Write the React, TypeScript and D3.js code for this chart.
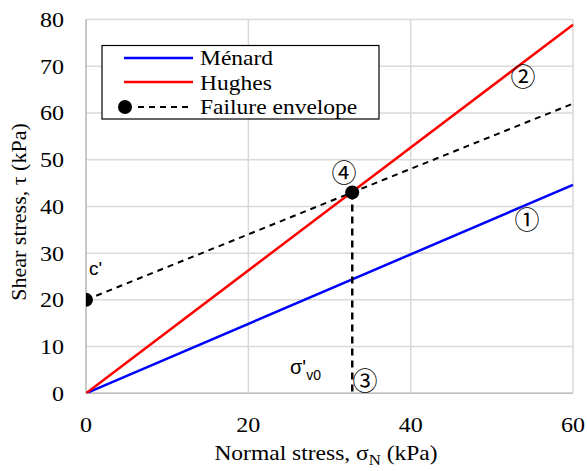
import React from "react";
import * as d3 from "d3";

const xTicks = [0, 20, 40, 60];
const yTicks = [0, 10, 20, 30, 40, 50, 60, 70, 80];
const menardX = [0, 60];
const menardY = [0, 44.6];
const hughesX = [0, 60];
const hughesY = [0, 78.9];
const envelopeX = [0, 32.8, 60];
const envelopeY = [20, 43, 62];
const sigmaV0 = 32.8;
const failurePointsX = [0, 32.8];
const failurePointsY = [20, 43];
const legendLabels = ["Ménard", "Hughes", "Failure envelope"];

const serif = "Liberation Serif, Times New Roman, serif";
const sans = "Liberation Sans, Arial, sans-serif";
const cjk = "Noto Sans CJK JP, sans-serif";
const SX = 1.12;

function SText(props: { x: number; y: number; anchor?: string; size: number; family: string; children: React.ReactNode; sx?: number }) {
  const s = props.sx ?? SX;
  return (
    <text
      transform={`translate(${props.x},${props.y}) scale(${s},1)`}
      textAnchor={props.anchor || "start"}
      fontFamily={props.family}
      fontSize={props.size}
      fill="#000"
    >
      {props.children}
    </text>
  );
}

export default function App() {
  const W = 587, H = 471;
  const left = 86, right = 573, top = 19.5, bottom = 393.3;
  const x = d3.scaleLinear().domain([0, 60]).range([left, right]);
  const y = d3.scaleLinear().domain([0, 80]).range([bottom, top]);
  const line = d3.line<[number, number]>().x(d => x(d[0])).y(d => y(d[1]));
  const zip = (a: number[], b: number[]) => a.map((v, i) => [v, b[i]] as [number, number]);
  const grid = "#d9d9d9";
  return (
    <svg width={W} height={H} style={{ position: "absolute", left: 0, top: 0, background: "#fff" }}>
      <defs>
        <clipPath id="plot">
          <rect x={left} y={top - 10} width={right - left + 10} height={bottom - top + 10} />
        </clipPath>
      </defs>
      {yTicks.map(t => (
        <line key={"gy" + t} x1={left} x2={right} y1={y(t)} y2={y(t)} stroke={grid} strokeWidth={1.5} />
      ))}
      {xTicks.map(t => (
        <line key={"gx" + t} x1={x(t)} x2={x(t)} y1={top} y2={bottom} stroke={grid} strokeWidth={1.5} />
      ))}
      <line x1={left} x2={left} y1={top} y2={bottom} stroke="#bfbfbf" strokeWidth={1.5} />
      <line x1={left} x2={right} y1={bottom} y2={bottom} stroke="#bfbfbf" strokeWidth={1.5} />
      {yTicks.map(t => (
        <SText key={"ty" + t} x={64} y={y(t) + 7.5} anchor="end" size={21.5} family={serif}>{t}</SText>
      ))}
      {xTicks.map(t => (
        <SText key={"tx" + t} x={x(t)} y={432} anchor="middle" size={21.5} family={serif}>{t}</SText>
      ))}
      <SText x={326} y={460} anchor="middle" size={21} family={serif}>
        Normal stress, σ<tspan dy={5} fontSize={15}>N</tspan><tspan dy={-5}> (kPa)</tspan>
      </SText>
      <text transform={`translate(26,${212}) rotate(-90)`} textAnchor="middle" fontFamily={serif} fontSize={22} fill="#000">
        Shear stress, τ (kPa)
      </text>
      <g clipPath="url(#plot)">
        <path d={line(zip(menardX, menardY)) || ""} stroke="#0000ff" strokeWidth={2.5} fill="none" />
        <path d={line(zip(hughesX, hughesY)) || ""} stroke="#ff0000" strokeWidth={2.5} fill="none" />
        <path d={line(zip(envelopeX, envelopeY)) || ""} stroke="#000" strokeWidth={2} strokeDasharray="6,5" fill="none" />
        <line x1={x(sigmaV0)} x2={x(sigmaV0)} y1={y(43)} y2={y(0)} stroke="#000" strokeWidth={2.5} strokeDasharray="7,5" />
        {failurePointsX.map((v, i) => (
          <circle key={"p" + i} cx={x(v)} cy={y(failurePointsY[i])} r={7} fill="#000" />
        ))}
      </g>
      <text x={344} y={182} textAnchor="middle" fontFamily={cjk} fontSize={25} fill="#000">④</text>
      <text x={523} y={86} textAnchor="middle" fontFamily={cjk} fontSize={25} fill="#000">②</text>
      <text x={527} y={228.5} textAnchor="middle" fontFamily={cjk} fontSize={25} fill="#000">①</text>
      <text x={365} y={389.5} textAnchor="middle" fontFamily={cjk} fontSize={25} fill="#000">③</text>
      <text x={290} y={374} fontFamily={sans} fontSize={20} fill="#000">σ'<tspan dy={6} fontSize={14}>v0</tspan></text>
      <text x={89} y={275} fontFamily={sans} fontSize={19} fill="#000">c'</text>
      <rect x={102} y={45.5} width={277} height={73.5} fill="#fff" stroke="#000" strokeWidth={1.2} />
      <line x1={124} x2={193} y1={58} y2={58} stroke="#0000ff" strokeWidth={2.5} />
      <line x1={124} x2={193} y1={82} y2={82} stroke="#ff0000" strokeWidth={2.5} />
      <line x1={138} x2={190} y1={107} y2={107} stroke="#000" strokeWidth={2} strokeDasharray="6,5" />
      <circle cx={125} cy={107} r={7} fill="#000" />
      {legendLabels.map((l, i) => (
        <SText key={l} x={200} y={65 + i * 24.5} size={21} family={serif}>{l}</SText>
      ))}
    </svg>
  );
}
